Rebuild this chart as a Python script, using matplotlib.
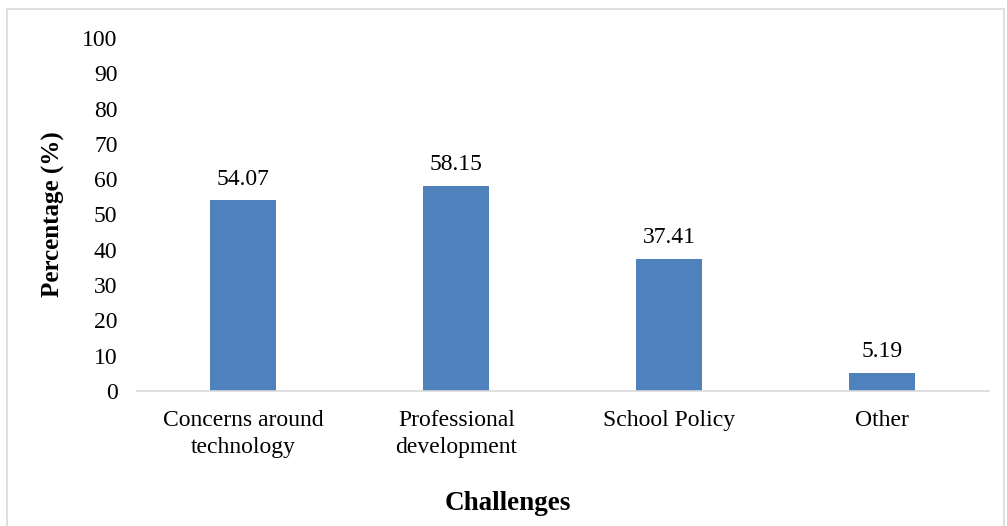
import matplotlib.pyplot as plt
from matplotlib.patches import Rectangle

categories = ["Concerns around\ntechnology", "Professional\ndevelopment", "School Policy", "Other"]
values = [54.07, 58.15, 37.41, 5.19]
yticks = list(range(0, 101, 10))

plt.rcParams['font.family'] = ['Liberation Serif', 'DejaVu Serif']

fig = plt.figure(figsize=(10.07, 5.26), dpi=100)
ax = fig.add_axes([0.136, 0.2567, 0.846, 0.6711])

x = range(len(categories))
ax.bar(x, values, width=0.31, color='#4F81BD', zorder=2)
for xi, v in zip(x, values):
    ax.text(xi, v + 3.0, '%.2f' % v, ha='center', va='bottom', fontsize=17)

ax.set_xlim(-0.5, 3.5)
ax.set_ylim(0, 100)
ax.set_yticks(yticks)
ax.set_xticks(list(x))
ax.set_xticklabels(categories, fontsize=17, linespacing=1.35)
ax.tick_params(axis='y', length=0, labelsize=17, pad=14)
ax.tick_params(axis='x', length=0, pad=14)
for s in ['top', 'right', 'left']:
    ax.spines[s].set_visible(False)
ax.spines['bottom'].set_color('#d9d9d9')
ax.spines['bottom'].set_linewidth(1.2)

ax.set_ylabel('Percentage (%)', fontsize=18, fontweight='bold', labelpad=12)
fig.text(0.504, 0.043, 'Challenges', ha='center', va='center', fontsize=19.5, fontweight='bold')

fig.patches.append(Rectangle((7 / 1007, -0.01), 997 / 1007, 1 - 9 / 526 + 0.01,
                             transform=fig.transFigure, fill=False,
                             edgecolor='#d9d9d9', linewidth=1.2))

fig.savefig('out.png', dpi=100)
